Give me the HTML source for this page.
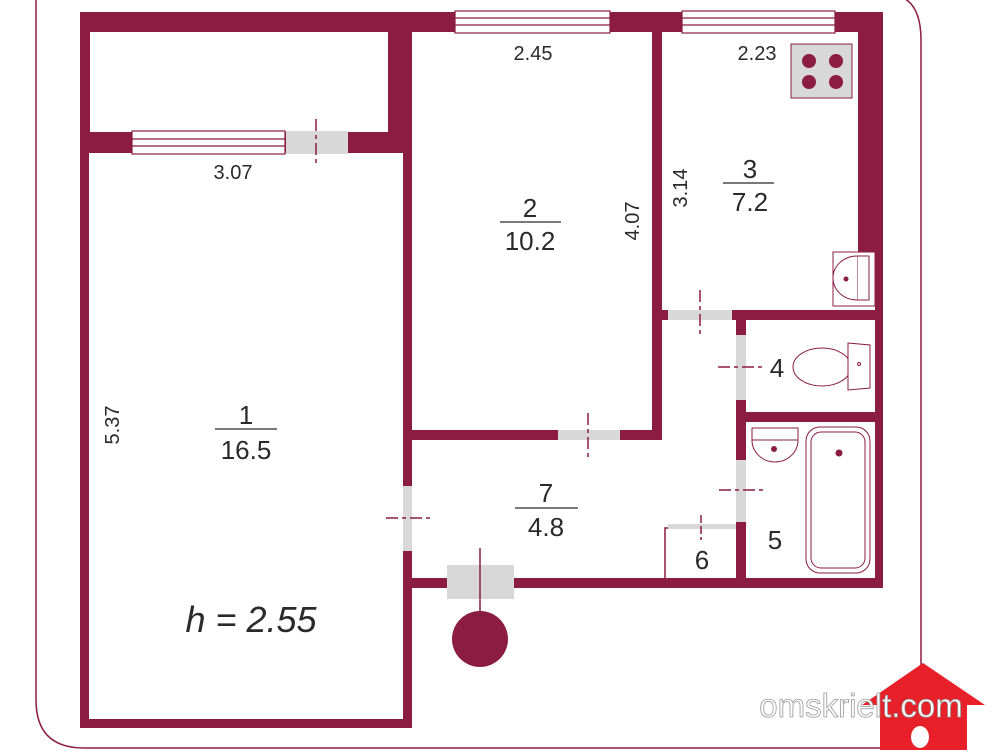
<!DOCTYPE html>
<html><head><meta charset="utf-8"><style>
body{margin:0;background:#fff;width:1000px;height:750px;overflow:hidden}
svg text{font-family:"Liberation Sans",sans-serif;fill:#2a2a2a}
</style></head><body>
<svg width="1000" height="750" viewBox="0 0 1000 750" xmlns="http://www.w3.org/2000/svg">
<g fill="none" stroke="#8b1c42" stroke-width="1.5">
<path d="M36 0 L36 700 Q36 748 84 748 L880 748"/>
<path d="M895 -5 Q921 0 921 40 L921 665"/>
</g>
<g fill="#8b1c42">
<rect x="80" y="12" width="803" height="20"/>
<rect x="80" y="12" width="10" height="141"/>
<rect x="80" y="132" width="332" height="21"/>
<rect x="388" y="12" width="24" height="141"/>
<rect x="80" y="132" width="9" height="596"/>
<rect x="403" y="132" width="9" height="596"/>
<rect x="80" y="719" width="332" height="9"/>
<rect x="652" y="12" width="10" height="428"/>
<rect x="412" y="430" width="250" height="10"/>
<rect x="858" y="12" width="25" height="240"/>
<rect x="875" y="240" width="8" height="348"/>
<rect x="660" y="310" width="223" height="10"/>
<rect x="736" y="310" width="10" height="278"/>
<rect x="736" y="412" width="147" height="10"/>
<rect x="412" y="578" width="471" height="10"/>
</g>
<rect x="833" y="252" width="42" height="54" fill="#fff" stroke="#8b1c42" stroke-width="1"/>
<g fill="#fff" stroke="#8b1c42" stroke-width="1.2">
<rect x="455" y="11" width="155" height="22"/><line x1="455" y1="18" x2="610" y2="18"/><line x1="455" y1="25" x2="610" y2="25"/>
<rect x="682" y="11" width="153" height="22"/><line x1="682" y1="18" x2="835" y2="18"/><line x1="682" y1="25" x2="835" y2="25"/>
<rect x="132" y="131" width="153" height="23"/><line x1="132" y1="139" x2="285" y2="139"/><line x1="132" y1="146" x2="285" y2="146"/>
</g>
<g fill="#d8d8d8">
<rect x="286" y="131" width="62" height="23"/>
<rect x="558" y="430" width="62" height="10"/>
<rect x="668" y="310" width="64" height="10"/>
<rect x="736" y="335" width="10" height="65"/>
<rect x="736" y="460" width="10" height="62"/>
<rect x="403" y="486" width="9" height="65"/>
<rect x="447" y="565" width="67" height="34"/>
<rect x="668" y="524" width="68" height="5"/>
</g>
<g stroke="#8b1c42" stroke-width="1.5" fill="none">
<line x1="316" y1="119" x2="316" y2="165" stroke-dasharray="12 4 4 4"/>
<line x1="588" y1="413" x2="588" y2="458" stroke-dasharray="12 4 4 4"/>
<line x1="700" y1="290" x2="700" y2="336" stroke-dasharray="12 4 4 4"/>
<line x1="718" y1="367" x2="764" y2="367" stroke-dasharray="12 4 4 4"/>
<line x1="719" y1="490" x2="765" y2="490" stroke-dasharray="12 4 4 4"/>
<line x1="386" y1="518" x2="432" y2="518" stroke-dasharray="12 4 4 4"/>
<line x1="701" y1="515" x2="701" y2="540" stroke-dasharray="8 3"/>
<line x1="480" y1="548" x2="480" y2="612"/>
<path d="M665 580 L665 528 L668 528"/>
</g>
<circle cx="480" cy="639" r="28" fill="#8b1c42"/>
<rect x="791" y="44" width="61" height="54" fill="#d8d8d8" stroke="#8b1c42" stroke-width="1"/>
<g fill="#8b1c42"><circle cx="809" cy="61" r="7"/><circle cx="836" cy="61" r="7"/><circle cx="809" cy="82" r="7"/><circle cx="836" cy="82" r="7"/></g>
<g stroke="#8b1c42" stroke-width="1" fill="#fff">
<path d="M857 256 L869 256 L869 300 L857 300 Z"/>
<path d="M857 256 A24 22 0 0 0 857 300"/>
<circle cx="846" cy="279" r="2" fill="#8b1c42"/>
<ellipse cx="822" cy="367" rx="29" ry="19"/>
<path d="M848 343 L870 345 L870 388 L848 390 Z"/>
<circle cx="859" cy="364" r="1.5"/>
<path d="M752 428 L798 428 L798 440 A23 22 0 0 1 752 440 Z"/>
<line x1="752" y1="440" x2="798" y2="440"/>
<circle cx="774" cy="449" r="2.5" fill="#8b1c42"/>
<rect x="806" y="427" width="64" height="146" rx="14"/>
<rect x="811" y="432" width="54" height="136" rx="10"/>
<circle cx="839" cy="453" r="3" fill="#8b1c42"/>
</g>
<g stroke="#2a2a2a" stroke-width="1.3">
<line x1="500" y1="222" x2="561" y2="222"/>
<line x1="723" y1="183" x2="774" y2="183"/>
<line x1="215" y1="429" x2="277" y2="429"/>
<line x1="515" y1="508" x2="578" y2="508"/>
</g>
<g font-size="20">
<text x="533" y="60" text-anchor="middle">2.45</text>
<text x="757" y="60" text-anchor="middle">2.23</text>
<text x="233" y="179" text-anchor="middle">3.07</text>
<text x="530" y="217" text-anchor="middle" font-size="26">2</text>
<text x="530" y="250" text-anchor="middle" font-size="26">10.2</text>
<text x="750" y="178" text-anchor="middle" font-size="26">3</text>
<text x="750" y="211" text-anchor="middle" font-size="26">7.2</text>
<text x="246" y="424" text-anchor="middle" font-size="26">1</text>
<text x="246" y="459" text-anchor="middle" font-size="26">16.5</text>
<text x="546" y="502" text-anchor="middle" font-size="26">7</text>
<text x="546" y="536" text-anchor="middle" font-size="26">4.8</text>
<text x="777" y="377" text-anchor="middle" font-size="26">4</text>
<text x="775" y="549" text-anchor="middle" font-size="26">5</text>
<text x="702" y="569" text-anchor="middle" font-size="26">6</text>
<text transform="translate(639,221) rotate(-90)" text-anchor="middle">4.07</text>
<text transform="translate(687,188) rotate(-90)" text-anchor="middle">3.14</text>
<text transform="translate(119,425) rotate(-90)" text-anchor="middle">5.37</text>
<text x="251" y="632" text-anchor="middle" font-size="36" font-style="italic">h = 2.55</text>
</g>
<path d="M923 663 L985 705 L967 705 L967 750 L880 750 L880 705 L862 705 Z" fill="#e8202a"/>
<text x="861" y="717" text-anchor="middle" font-size="33" style="fill:#fff;stroke:#999;stroke-width:0.8">omskrielt.com</text>
<ellipse cx="920" cy="737" rx="9" ry="11" fill="#fff"/>
</svg>
</body></html>
